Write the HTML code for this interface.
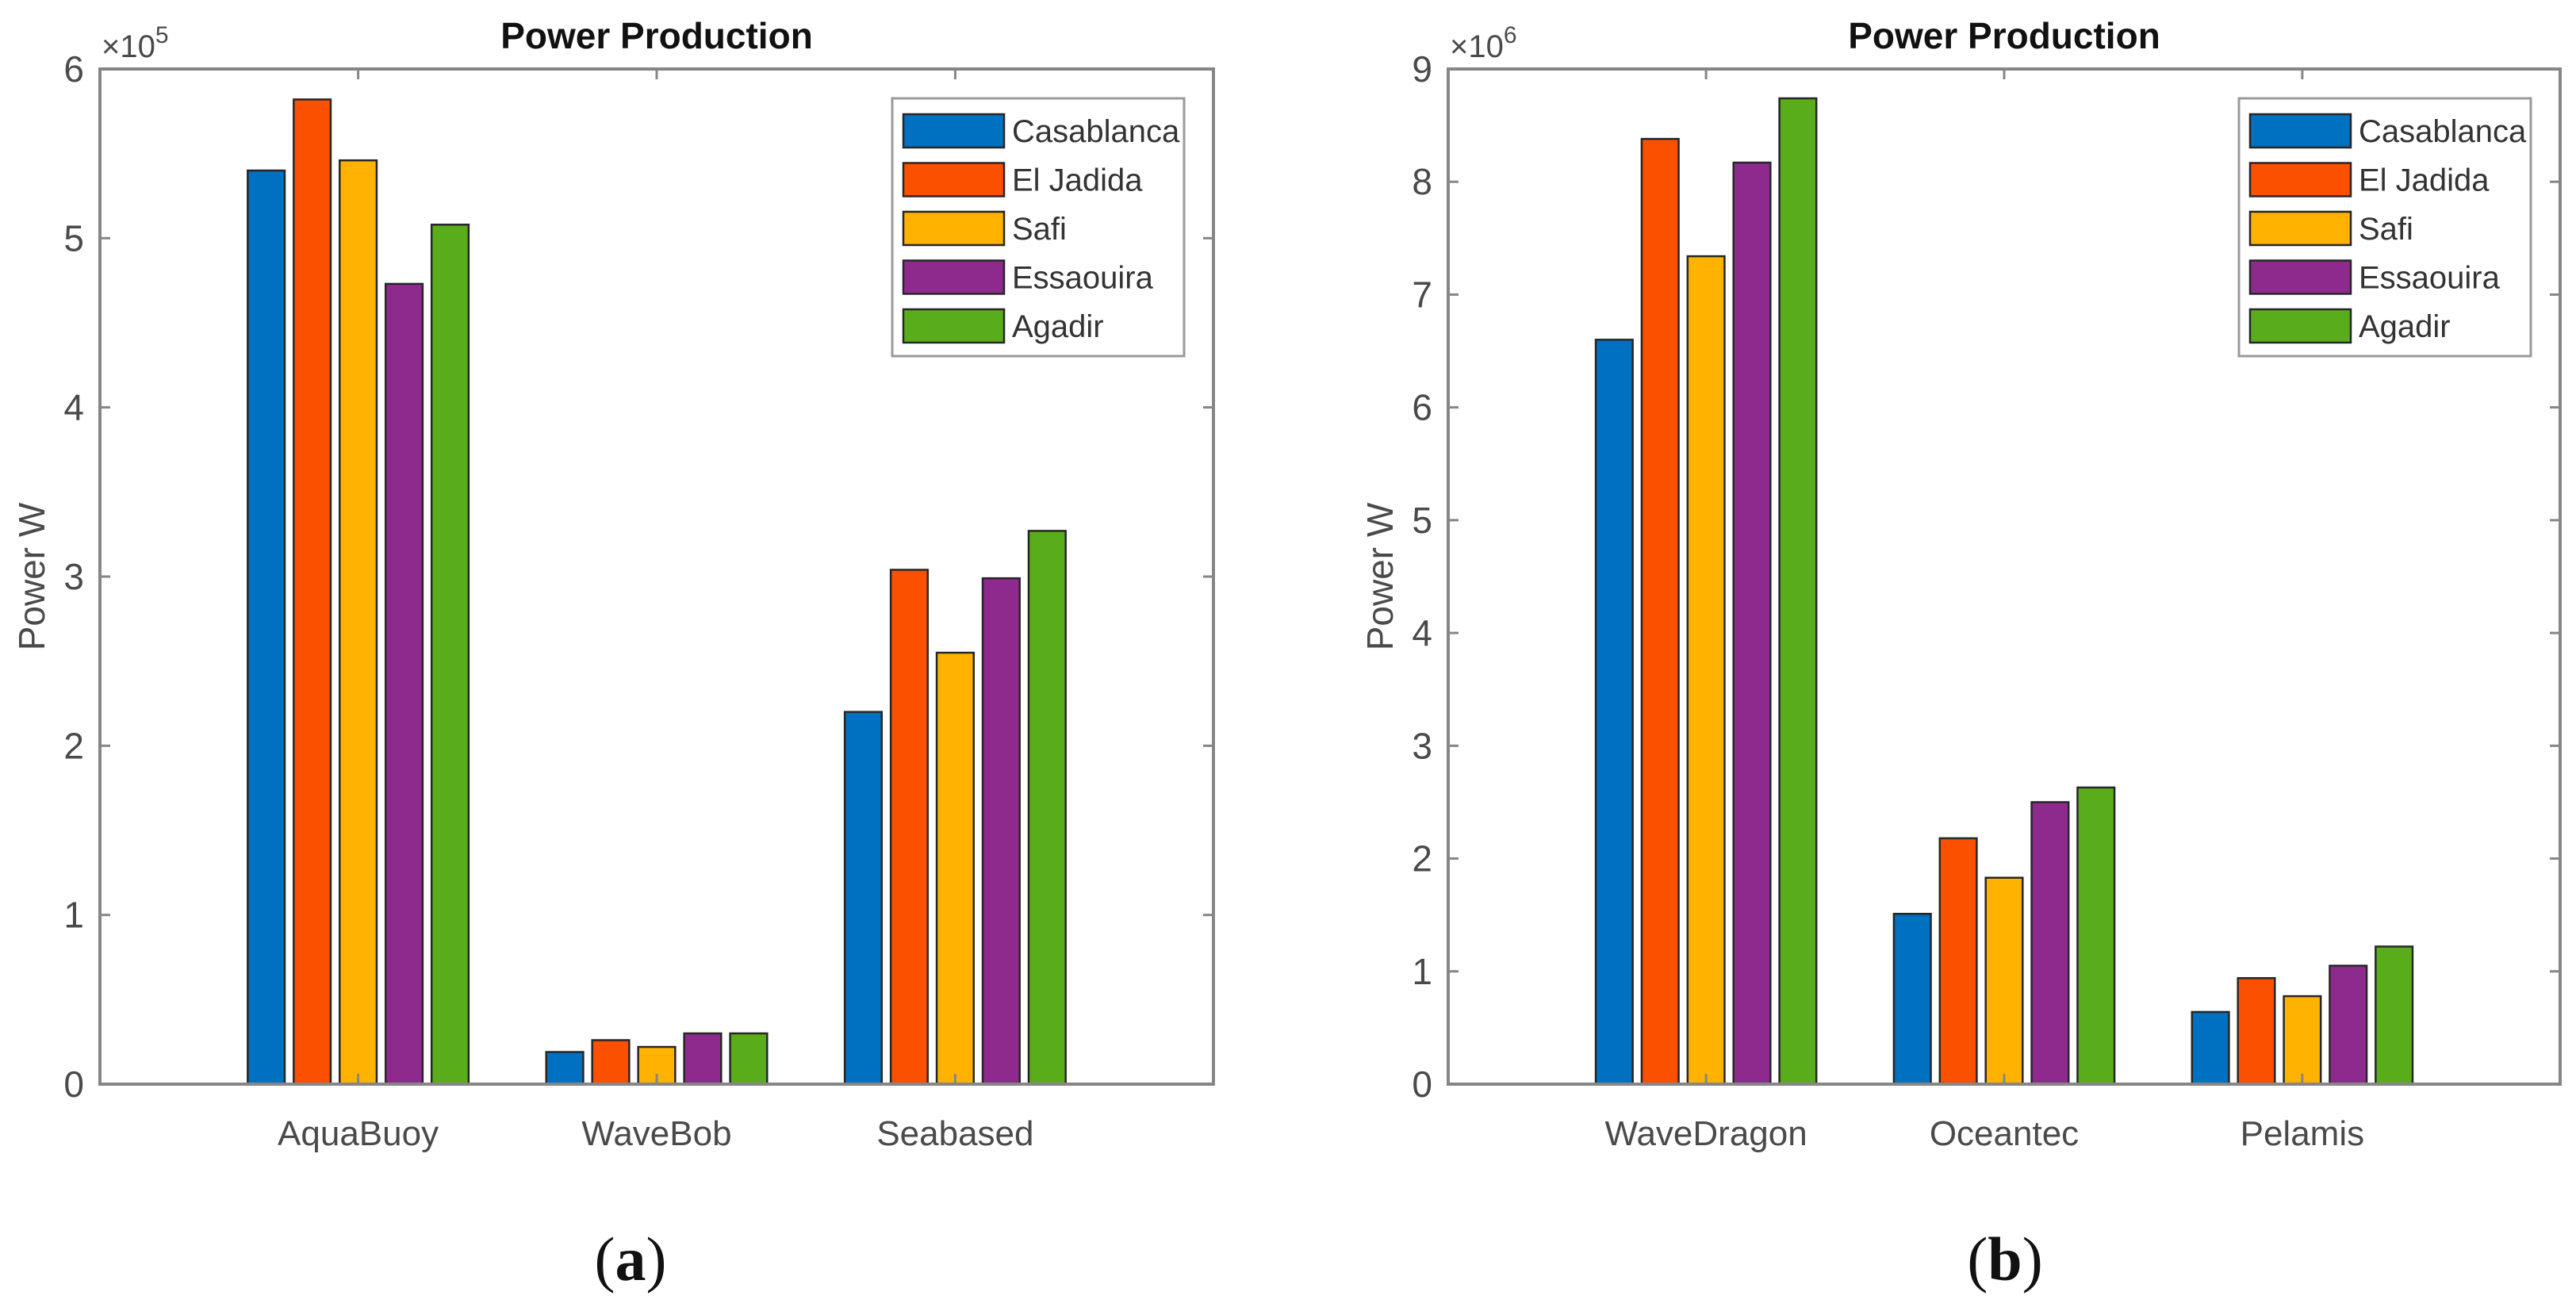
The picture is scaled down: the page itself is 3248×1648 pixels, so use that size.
<!DOCTYPE html>
<html><head><meta charset="utf-8"><style>
html,body{margin:0;padding:0;background:#fff;}
svg{display:block;font-family:"Liberation Sans",Arial,sans-serif;}
</style></head><body>
<svg id="fig" width="3248" height="1648" viewBox="0 0 3248 1648" xmlns="http://www.w3.org/2000/svg"></svg>
<script>
const seriesNames = ["Casablanca","El Jadida","Safi","Essaouira","Agadir"];
const seriesColors = ["#0070c0","#fa5000","#ffb200","#8e2a8e","#5aad1a"];
const catsA = ["AquaBuoy","WaveBob","Seabased"];
const casablancaA = [5.40,0.19,2.20];
const elJadidaA = [5.82,0.26,3.04];
const safiA = [5.46,0.22,2.55];
const essaouiraA = [4.73,0.30,2.99];
const agadirA = [5.08,0.30,3.27];
const ticksA = [0,1,2,3,4,5,6];
const catsB = ["WaveDragon","Oceantec","Pelamis"];
const casablancaB = [6.60,1.51,0.64];
const elJadidaB = [8.38,2.18,0.94];
const safiB = [7.34,1.83,0.78];
const essaouiraB = [8.17,2.50,1.05];
const agadirB = [8.74,2.63,1.22];
const ticksB = [0,1,2,3,4,5,6,7,8,9];

const NS="http://www.w3.org/2000/svg";
const svg=document.getElementById('fig');
function mk(tag,attrs,parent,text){
  const e=document.createElementNS(NS,tag);
  for(const k in attrs) e.setAttribute(k,attrs[k]);
  if(text!==undefined) e.textContent=text;
  (parent||svg).appendChild(e);
  return e;
}
function drawPanel(cfg){
  const g=mk('g',{});
  
  
  const L=cfg.left,R=cfg.right,T=87,B=1367;
  const ymax=cfg.ticks[cfg.ticks.length-1];
  const y=v=>B-(v/ymax)*(B-T);
  const xmin=1-0.865,xmaxv=cfg.cats.length+0.865;
  const x=c=>L+(c-xmin)/(xmaxv-xmin)*(R-L);
  const unit=(R-L)/(xmaxv-xmin);
  const step=unit*0.154, bw=unit*0.124;
  // bars
  cfg.series.forEach((arr,s)=>{
    arr.forEach((v,i)=>{
      const cx=x(i+1)+(s-2)*step;
      const r=mk('rect',{x:cx-bw/2,y:y(v),width:bw,height:B-y(v),fill:seriesColors[s],stroke:"#262626","stroke-width":2.5},g);
      
      
    });
  });
  // axes box
  const box=mk('rect',{x:L,y:T,width:R-L,height:B-T,fill:"none",stroke:"#868686","stroke-width":4},g);
  
  
  // y ticks
  cfg.ticks.forEach(t=>{
    mk('line',{x1:L,x2:L+13,y1:y(t),y2:y(t),stroke:"#868686","stroke-width":3},g);
    mk('line',{x1:R,x2:R-13,y1:y(t),y2:y(t),stroke:"#868686","stroke-width":3},g);
    const lab=mk('text',{x:L-20,y:y(t)+16,"text-anchor":"end","font-size":46,fill:"#4a4a4a"},g,String(t));
    
    
  });
  // x ticks
  cfg.cats.forEach((c,i)=>{
    mk('line',{x1:x(i+1),x2:x(i+1),y1:B,y2:B-13,stroke:"#868686","stroke-width":3},g);
    mk('line',{x1:x(i+1),x2:x(i+1),y1:T,y2:T+13,stroke:"#868686","stroke-width":3},g);
    const lab=mk('text',{x:x(i+1),y:1444,"text-anchor":"middle","font-size":44,fill:"#4a4a4a"},g,c);
    
    
  });
  // exponent
  const ex=mk('text',{x:L+2,y:72,"font-size":40,fill:"#4a4a4a"},g);
  
  
  mk('tspan',{},ex,'\u00d710');
  mk('tspan',{dy:-18,"font-size":30},ex,cfg.exp);
  // title
  const ti=mk('text',{x:(L+R)/2,y:61,"text-anchor":"middle","font-size":46,"font-weight":"bold",fill:"#111"},g,"Power Production");
  
  
  // y label
  const yl=mk('text',{x:0,y:0,"text-anchor":"middle","font-size":46,fill:"#4a4a4a",transform:`translate(${L-70},${(T+B)/2}) rotate(-90)`},g,"Power W");
  
  
  // legend
  const lx=cfg.legendX, ly=124;
  const lg=mk('g',{},g);
  
  
  mk('rect',{x:lx,y:ly,width:368,height:325,fill:"#fff",stroke:"#9a9a9a","stroke-width":3},lg);
  seriesNames.forEach((n,s)=>{
    const cy=165+s*61.5;
    const e=mk('g',{},lg);
    
    
    mk('rect',{x:lx+14,y:cy-21,width:127,height:42,fill:seriesColors[s],stroke:"#262626","stroke-width":2.5},e);
    mk('text',{x:lx+151,y:cy+14,"font-size":40,fill:"#333"},e,n);
  });
  // panel caption
  const cap=mk('text',{x:cfg.capX,y:1614,"text-anchor":"middle","font-size":78,fill:"#111","font-family":"Liberation Serif, serif"},g);
  
  
  mk('tspan',{},cap,'(');
  mk('tspan',{"font-weight":"bold"},cap,cfg.letter);
  mk('tspan',{},cap,')');
}
drawPanel({name:'panel-a',left:126,right:1530,cats:catsA,series:[casablancaA,elJadidaA,safiA,essaouiraA,agadirA],ticks:ticksA,exp:'5',legendX:1125,capX:795,letter:'a'});
drawPanel({name:'panel-b',left:1826,right:3228,cats:catsB,series:[casablancaB,elJadidaB,safiB,essaouiraB,agadirB],ticks:ticksB,exp:'6',legendX:2823,capX:2528,letter:'b'});
</script>
</body></html>
